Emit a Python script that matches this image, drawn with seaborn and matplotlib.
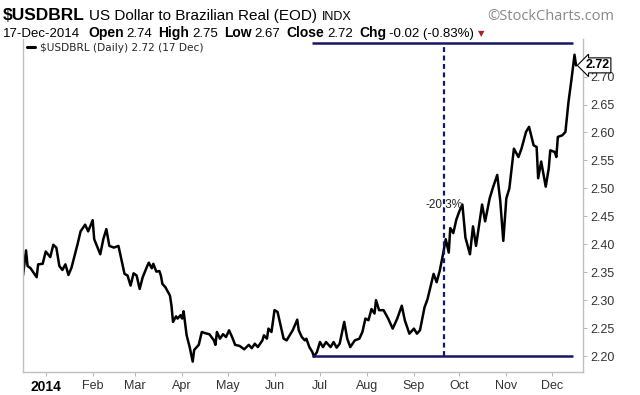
"""Recreate the StockCharts USDBRL daily chart for 2014."""

import matplotlib
matplotlib.use("Agg")
import matplotlib.pyplot as plt
import matplotlib.transforms as mtransforms
import pandas as pd
import seaborn as sns

# --- data --------------------------------------------------------------------
start_date = "2013-12-17"
day_offset = [
    0, 2, 3, 5, 9, 10, 13, 15, 18, 20, 22, 24, 26, 28, 30, 32, 36, 38, 41, 43,
    46, 47, 51, 53, 55, 57, 60, 63, 67, 69, 71, 73, 75, 77, 79, 82, 83, 85, 86, 88,
    90, 91, 92, 94, 97, 98, 99, 101, 102, 104, 105, 106, 108, 110, 112, 113, 116, 118, 120, 123,
    126, 127, 128, 130, 132, 134, 136, 138, 140, 143, 146, 149, 151, 153, 155, 158, 159, 161, 162, 164,
    166, 168, 170, 172, 174, 176, 178, 181, 182, 184, 186, 187, 189, 191, 192, 194, 196, 198, 200, 203,
    205, 207, 209, 212, 214, 216, 219, 222, 224, 226, 228, 230, 232, 233, 235, 238, 241, 244, 247, 250,
    252, 255, 258, 260, 262, 265, 267, 271, 273, 275, 277, 279, 281, 282, 284, 286, 288, 290, 292, 295,
    297, 299, 303, 305, 308, 310, 313, 315, 317, 319, 321, 324, 327, 329, 332, 334, 337, 339, 340, 342,
    345, 347, 348, 351, 352, 353, 356, 358, 360, 362, 364, 365,
]
close = [
    2.344, 2.389, 2.361, 2.357, 2.341, 2.364, 2.365, 2.387, 2.377, 2.399, 2.394, 2.361, 2.354, 2.364, 2.345, 2.358, 2.400, 2.423, 2.435, 2.423,
    2.443, 2.409, 2.382, 2.409, 2.427, 2.397, 2.394, 2.397, 2.347, 2.344, 2.326, 2.348, 2.344, 2.320, 2.341, 2.361, 2.367, 2.357, 2.365, 2.351,
    2.352, 2.344, 2.329, 2.323, 2.308, 2.290, 2.261, 2.271, 2.267, 2.273, 2.267, 2.280, 2.237, 2.216, 2.190, 2.211, 2.220, 2.243, 2.241, 2.239,
    2.228, 2.220, 2.243, 2.231, 2.239, 2.234, 2.246, 2.234, 2.220, 2.218, 2.212, 2.220, 2.214, 2.222, 2.216, 2.228, 2.237, 2.231, 2.249, 2.243,
    2.282, 2.279, 2.255, 2.231, 2.228, 2.237, 2.246, 2.265, 2.246, 2.234, 2.228, 2.231, 2.216, 2.207, 2.199, 2.207, 2.225, 2.216, 2.225, 2.216,
    2.225, 2.215, 2.222, 2.261, 2.231, 2.216, 2.228, 2.231, 2.243, 2.267, 2.264, 2.284, 2.276, 2.300, 2.282, 2.282, 2.267, 2.249, 2.267, 2.290,
    2.264, 2.240, 2.249, 2.240, 2.246, 2.287, 2.302, 2.347, 2.332, 2.352, 2.379, 2.409, 2.385, 2.429, 2.420, 2.444, 2.459, 2.471, 2.412, 2.382,
    2.432, 2.397, 2.471, 2.441, 2.482, 2.500, 2.524, 2.477, 2.406, 2.482, 2.500, 2.571, 2.556, 2.571, 2.601, 2.610, 2.577, 2.574, 2.518, 2.548,
    2.503, 2.536, 2.568, 2.565, 2.556, 2.592, 2.595, 2.601, 2.654, 2.695, 2.739, 2.720,
]

month_ticks = ["2014-01-01", "2014-02-01", "2014-03-01", "2014-04-01", "2014-05-01", "2014-06-01",
               "2014-07-01", "2014-08-01", "2014-09-01", "2014-10-01", "2014-11-01", "2014-12-01"]
month_labels = ["2014", "Feb", "Mar", "Apr", "May", "Jun", "Jul", "Aug", "Sep", "Oct", "Nov", "Dec"]
y_ticks = [2.20, 2.25, 2.30, 2.35, 2.40, 2.45, 2.50, 2.55, 2.60, 2.65, 2.70]

last_close = 2.72
low_level = 2.20
high_level = 2.76
trend_start_day = 191
trend_end_day = 363
split_day = 278

title_runs = [("$USDBRL", 12.5, "bold", 4), ("US Dollar to Brazilian Real (EOD)", 11, "normal", 5), ("INDX", 9, "normal", 0)]
quote_runs = [
    ("17-Dec-2014", 9.5, "normal", 8), ("Open", 10, "bold", 3), ("2.74", 9.5, "normal", 6),
    ("High", 10, "bold", 3), ("2.75", 9.5, "normal", 6), ("Low", 10, "bold", 3), ("2.67", 9.5, "normal", 6),
    ("Close", 10, "bold", 3), ("2.72", 9.5, "normal", 6), ("Chg", 10, "bold", 3), ("-0.02 (-0.83%)", 9.5, "normal", 4),
]

# --- figure -------------------------------------------------------------------
sns.set_theme(style="white")
plt.rcParams["font.family"] = ["Liberation Sans", "DejaVu Sans"]

W, H = 640, 395
NAVY = "#15166b"
fig = plt.figure(figsize=(W / 100, H / 100), dpi=100)
ax = fig.add_axes([23 / W, 1 - 372 / H, (583 - 23) / W, (372 - 39) / H])

start = pd.Timestamp(start_date)
df = pd.DataFrame({"date": start + pd.to_timedelta(day_offset, unit="D"), "close": close})
sns.lineplot(data=df, x="date", y="close", ax=ax, color="black", linewidth=1.8,
             label=r"\$USDBRL (Daily) %.2f (%s)" % (last_close, "17 Dec"))

# trend annotation
t0 = start + pd.Timedelta(days=trend_start_day)
t1 = start + pd.Timedelta(days=trend_end_day)
ts = start + pd.Timedelta(days=split_day)
ax.plot([t0, t1], [low_level, low_level], color=NAVY, lw=1.8, solid_capstyle="butt")
ax.plot([t0, t1], [high_level, high_level], color=NAVY, lw=1.8, solid_capstyle="butt")
ax.plot([ts, ts], [low_level, high_level], color=NAVY, lw=1.6, dashes=(2.2, 1.6))
pct = (low_level - high_level) / high_level * 100
ax.text(ts, (low_level + high_level) / 2 - 0.01, f"{pct:.1f}%", ha="center", va="center",
        fontsize=8.5, color="#222222")

ax.set_xlim(start, start + pd.Timedelta(days=369.6))
ax.set_ylim(2.1714, 2.7672)
ax.set_xlabel("")
ax.set_ylabel("")

ax.yaxis.tick_right()
ax.set_yticks(y_ticks)
ax.set_yticklabels([f"{v:.2f}" for v in y_ticks])
ax.set_xticks(pd.to_datetime(month_ticks))
ax.set_xticklabels(month_labels)
ax.tick_params(axis="y", right=True, length=3, width=0.6, color="#aaaaaa", pad=2, labelsize=9, labelcolor="#333333")
ax.tick_params(axis="x", bottom=True, length=3, width=0.6, color="#aaaaaa", pad=3, labelsize=9, labelcolor="#333333")
xt = ax.get_xticklabels()
xt[0].set_fontweight("bold")
xt[0].set_fontsize(10)
xt[0].set_color("black")

for side in ["left", "right", "bottom", "top"]:
    ax.spines[side].set_color("#c0c0c0")
    ax.spines[side].set_linewidth(1.0)
ax.spines["top"].set_visible(False)

leg = ax.legend(loc="upper left", frameon=False, handlelength=0.8, handletextpad=0.5,
                borderaxespad=0.15, borderpad=0.2, prop={"family": "DejaVu Sans", "size": 7.6})
for line in leg.get_lines():
    line.set_linewidth(2.2)

# last price tag
ax.text(1.004, last_close, f"{last_close:.2f}", transform=mtransforms.blended_transform_factory(ax.transAxes, ax.transData),
        ha="left", va="center", fontsize=9, fontweight="bold", color="black", clip_on=False, zorder=5,
        bbox=dict(boxstyle="larrow,pad=0.12", fc="white", ec="black", lw=0.8))

# header lines
renderer = fig.canvas.get_renderer()
x = 3
for text, size, weight, gap in title_runs:
    t = fig.text(x / W, 1 - 20 / H, text, fontsize=size, fontweight=weight,
                 va="baseline", ha="left", color="black", parse_math=False)
    x += t.get_window_extent(renderer).width + gap
fig.text(614 / W, 1 - 20 / H, "\u00a9StockCharts.com", fontsize=10.5, family=["Open Sans", "DejaVu Sans"],
         va="baseline", ha="right", color="#888888")

x = 3
for text, size, weight, gap in quote_runs:
    t = fig.text(x / W, 1 - 37 / H, text, fontsize=size, fontweight=weight,
                 va="baseline", ha="left", color="black", parse_math=False)
    x += t.get_window_extent(renderer).width + gap
fig.text(x / W, 1 - 36 / H, "\u25bc", fontsize=6, color="#b02020", va="baseline", ha="left",
         family=["DejaVu Sans"])

fig.savefig("out.png", dpi=100)
